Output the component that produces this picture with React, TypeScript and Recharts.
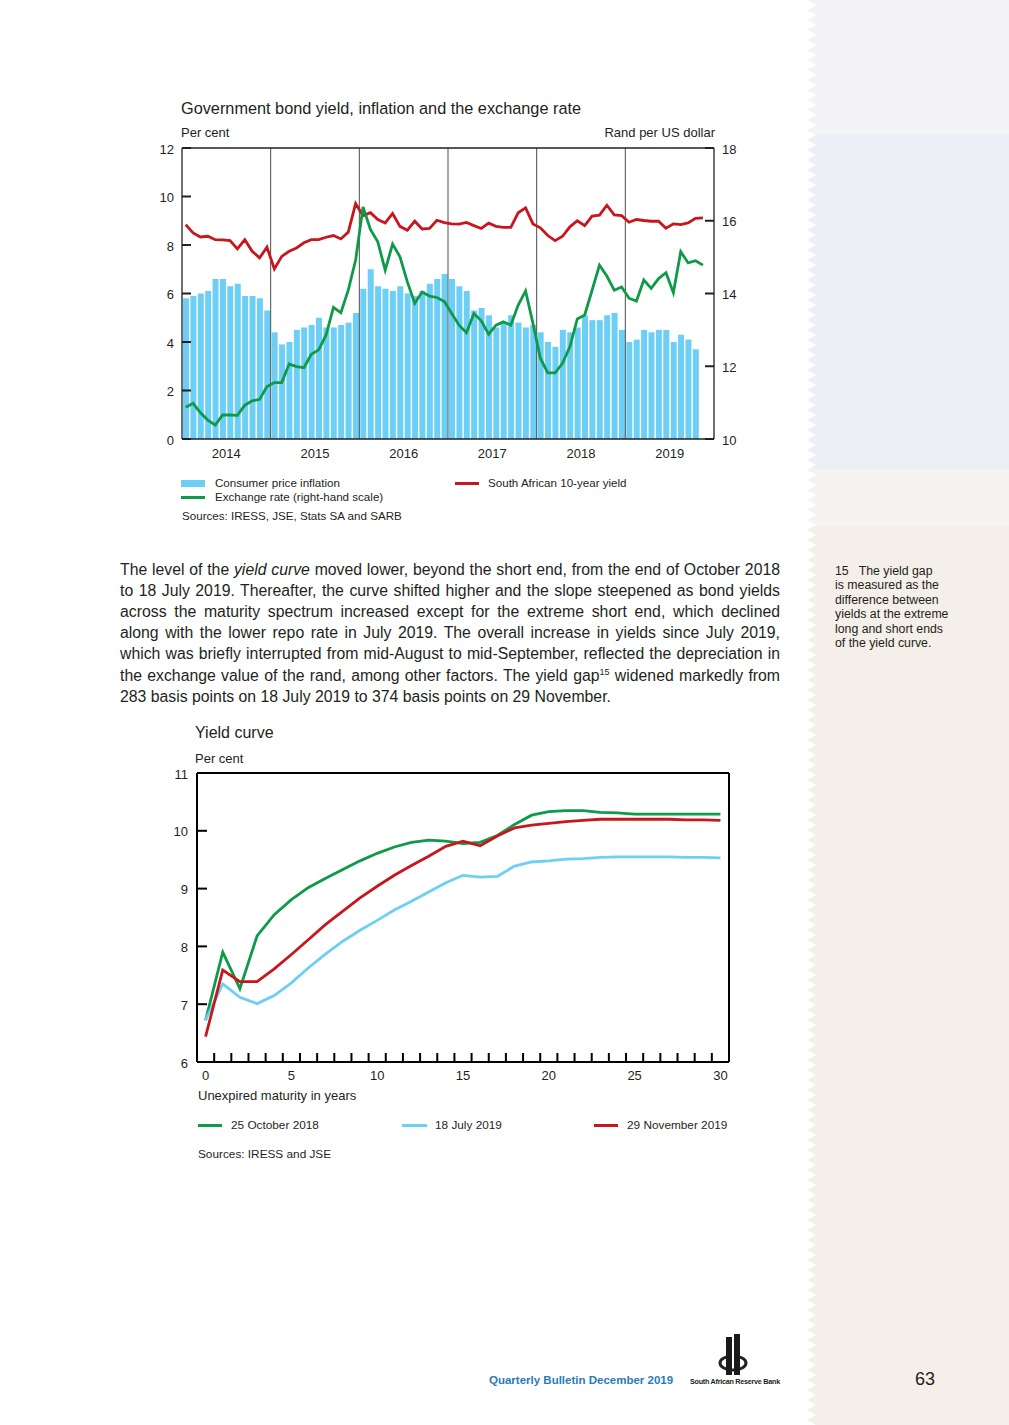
/**
 * App.tsx - SARB Quarterly Bulletin page: bond yield / inflation / rand chart
 * plus the yield curve chart, with the surrounding page text.
 */

import React from "react";
import { ComposedChart, LineChart, Bar, Line, XAxis, YAxis, ReferenceLine } from "recharts";

// ---- Chart 1 data (monthly, Jan 2014 onwards) ----
const yearLabels = ["2014", "2015", "2016", "2017", "2018", "2019"];

// Consumer price inflation, per cent (Jan 2014 - Oct 2019).
const cpi = [
  5.8, 5.9, 6.0, 6.1, 6.6, 6.6, 6.3, 6.4, 5.9, 5.9, 5.8, 5.3,
  4.4, 3.9, 4.0, 4.5, 4.6, 4.7, 5.0, 4.6, 4.6, 4.7, 4.8, 5.2,
  6.2, 7.0, 6.3, 6.2, 6.1, 6.3, 6.0, 5.9, 6.1, 6.4, 6.6, 6.8,
  6.6, 6.3, 6.1, 5.3, 5.4, 5.1, 4.6, 4.8, 5.1, 4.8, 4.6, 4.7,
  4.4, 4.0, 3.8, 4.5, 4.4, 4.6, 5.1, 4.9, 4.9, 5.1, 5.2, 4.5,
  4.0, 4.1, 4.5, 4.4, 4.5, 4.5, 4.0, 4.3, 4.1, 3.7,
];

// Rand per US dollar (Jan 2014 - Nov 2019), right-hand scale.
const randPerDollar = [
  10.87, 10.98, 10.72, 10.52, 10.38, 10.66, 10.66, 10.65, 10.93, 11.05, 11.09, 11.44,
  11.55, 11.55, 12.06, 11.99, 11.96, 12.33, 12.45, 12.86, 13.62, 13.47, 14.09, 14.92,
  16.38, 15.76, 15.42, 14.64, 15.36, 15.01, 14.32, 13.73, 14.04, 13.93, 13.89, 13.78,
  13.45, 13.13, 12.92, 13.45, 13.25, 12.88, 13.13, 13.22, 13.13, 13.68, 14.07, 13.18,
  12.22, 11.82, 11.82, 12.08, 12.54, 13.3, 13.41, 14.09, 14.78, 14.48, 14.09, 14.18,
  13.87, 13.79, 14.37, 14.14, 14.41, 14.57, 14.02, 15.15, 14.84, 14.9, 14.78,
];

// South African 10-year bond yield, per cent (Jan 2014 - Nov 2019).
const tenYearYield = [
  8.84, 8.5, 8.33, 8.36, 8.22, 8.21, 8.18, 7.84, 8.22, 7.74, 7.47, 7.91,
  7.01, 7.53, 7.74, 7.88, 8.09, 8.22, 8.22, 8.32, 8.39, 8.25, 8.53, 9.71,
  9.21, 9.33, 9.05, 8.91, 9.3, 8.77, 8.61, 8.98, 8.66, 8.68, 9.02, 8.92,
  8.87, 8.86, 8.93, 8.8, 8.68, 8.9, 8.77, 8.73, 8.73, 9.33, 9.53, 8.87,
  8.71, 8.39, 8.18, 8.36, 8.75, 9.0, 8.8, 9.19, 9.23, 9.64, 9.24, 9.21,
  8.94, 9.05, 9.01, 8.98, 8.98, 8.69, 8.87, 8.84, 8.91, 9.1, 9.12,
];

// ---- Chart 2 data (yield curves) ----
const maturities = [
  0, 1, 2, 3, 4, 5, 6, 7, 8, 9, 10, 11, 12, 13, 14, 15,
  16, 17, 18, 19, 20, 21, 22, 23, 24, 25, 26, 27, 28, 29, 30,
];
const curveOct2018 = [
  6.72, 7.9, 7.27, 8.18, 8.55, 8.81, 9.02, 9.18, 9.33, 9.48, 9.61, 9.72, 9.8, 9.84, 9.82, 9.78,
  9.8, 9.92, 10.11, 10.27, 10.33, 10.35, 10.35, 10.32, 10.31, 10.29, 10.29, 10.29, 10.29, 10.29, 10.29,
];
const curveJul2019 = [
  6.73, 7.35, 7.12, 7.01, 7.15, 7.37, 7.63, 7.87, 8.09, 8.28, 8.45, 8.63, 8.78, 8.94, 9.1, 9.23,
  9.2, 9.21, 9.39, 9.46, 9.48, 9.51, 9.52, 9.54, 9.55, 9.55, 9.55, 9.55, 9.54, 9.54, 9.53,
];
const curveNov2019 = [
  6.44, 7.59, 7.39, 7.39, 7.61, 7.86, 8.12, 8.38, 8.61, 8.84, 9.04, 9.23, 9.4, 9.56, 9.73, 9.82,
  9.74, 9.91, 10.05, 10.1, 10.13, 10.16, 10.18, 10.2, 10.2, 10.2, 10.2, 10.2, 10.19, 10.19, 10.18,
];

// Rows for the libraries (month centre sits half a month after its start).
const bondRows = randPerDollar.map((fx, i) => ({
  t: i + 0.5,
  cpi: i < cpi.length ? cpi[i] : null,
  fx,
  yld: tenYearYield[i],
}));
const yearStarts = [12, 24, 36, 48, 60];
const yearMids = [6, 18, 30, 42, 54, 66];

const curveRows = maturities.map((m, i) => ({
  m,
  oct: curveOct2018[i],
  jul: curveJul2019[i],
  nov: curveNov2019[i],
}));
const minorTicks = maturities.slice(0, 30).map((m) => m + 0.5); // tick marks between years

const FONT = '"Liberation Sans", Arial, Helvetica, sans-serif';
const INK = "#231F20";
const BLUE = "#6DCFF6";
const GREEN = "#0E9A48";
const RED = "#C8161D";

// Absolutely placed text, y is the vertical centre of the capitals.
const Txt: React.FC<{ x: number; y: number; size: number; children: React.ReactNode; style?: React.CSSProperties }> = ({ x, y, size, children, style }) => (
  <div
    style={{
      position: "absolute",
      left: x,
      top: y - size * 0.6,
      fontSize: size,
      lineHeight: `${size * 1.2}px`,
      whiteSpace: "nowrap",
      ...style,
    }}
  >
    {children}
  </div>
);

const Swatch: React.FC<{ x: number; y: number; w: number; h: number; color: string }> = ({ x, y, w, h, color }) => (
  <div style={{ position: "absolute", left: x, top: y - h / 2, width: w, height: h, background: color }} />
);

// Sidebar zig-zag left edge.
const zigzag = (() => {
  const pts: string[] = ["100% 0", "100% 100%"];
  for (let y = 1425; y >= 0; y -= 5) pts.push(`${(y / 5) % 2 === 0 ? 0 : 9}px ${y}px`);
  return `polygon(${pts.join(",")})`;
})();

const paraLines: React.ReactNode[] = [
  <>The level of the <i>yield curve</i> moved lower, beyond the short end, from the end of October 2018</>,
  <>to 18 July 2019. Thereafter, the curve shifted higher and the slope steepened as bond yields</>,
  <>across the maturity spectrum increased except for the extreme short end, which declined</>,
  <>along with the lower repo rate in July 2019. The overall increase in yields since July 2019,</>,
  <>which was briefly interrupted from mid-August to mid-September, reflected the depreciation in</>,
  <>the exchange value of the rand, among other factors. The yield gap<sup style={{ fontSize: 9, lineHeight: 0 }}>15</sup> widened markedly from</>,
  <>283 basis points on 18 July 2019 to 374 basis points on 29 November.</>,
];

const footLines = ["is measured as the", "difference between", "yields at the extreme", "long and short ends", "of the yield curve."];

const BondChart: React.FC = () => (
  <div style={{ position: "absolute", left: 140, top: 140 }}>
    <ComposedChart width={616} height={329} data={bondRows} margin={{ top: 7, right: 0, bottom: 0, left: 0 }}>
      {/* top border of the frame */}
      <XAxis xAxisId="top" orientation="top" type="number" dataKey="t" domain={[0, 72]} height={1} tick={false} tickLine={false} axisLine={{ stroke: INK, strokeWidth: 1.3 }} />
      <XAxis
        type="number"
        dataKey="t"
        domain={[0, 72]}
        ticks={yearMids}
        interval={0}
        tickFormatter={(v: number) => yearLabels[yearMids.indexOf(v)]}
        height={30}
        tickLine={false}
        tickMargin={4}
        axisLine={{ stroke: INK, strokeWidth: 1.3 }}
        tick={{ fill: INK, fontSize: 13 }}
      />
      <YAxis yAxisId="left" domain={[0, 12]} ticks={[0, 2, 4, 6, 8, 10, 12]} interval={0} width={42} tickSize={-9} tickMargin={17} axisLine={{ stroke: INK, strokeWidth: 1.3 }} tickLine={{ stroke: INK, strokeWidth: 2 }} tick={{ fill: INK, fontSize: 13, dy: 1 }} />
      <YAxis yAxisId="right" orientation="right" domain={[10, 18]} ticks={[10, 12, 14, 16, 18]} interval={0} width={42} tickSize={-9} tickMargin={17} axisLine={{ stroke: INK, strokeWidth: 1.3 }} tickLine={{ stroke: INK, strokeWidth: 2 }} tick={{ fill: INK, fontSize: 13, dy: 1 }} />
      <Bar yAxisId="left" dataKey="cpi" fill={BLUE} barSize={6} isAnimationActive={false} />
      {yearStarts.map((x) => (
        <ReferenceLine key={x} yAxisId="left" x={x} stroke="#3A3A3A" strokeWidth={0.9} />
      ))}
      <Line yAxisId="left" type="linear" dataKey="yld" stroke={RED} strokeWidth={2.8} dot={false} isAnimationActive={false} />
      <Line yAxisId="right" type="linear" dataKey="fx" stroke={GREEN} strokeWidth={2.8} dot={false} isAnimationActive={false} />
    </ComposedChart>
  </div>
);

const CurveChart: React.FC = () => (
  <div style={{ position: "absolute", left: 150, top: 760 }}>
    <LineChart width={589} height={327} data={curveRows} margin={{ top: 12, right: 9, bottom: 0, left: 0 }}>
      {/* small inward ticks between maturities */}
      <XAxis xAxisId="minor" type="number" dataKey="m" domain={[-0.5, 30.5]} ticks={minorTicks} interval={0} height={1} mirror tickSize={9} tick={() => <g />} axisLine={false} tickLine={{ stroke: "#000", strokeWidth: 2 }} />
      {/* top border of the frame */}
      <XAxis xAxisId="top" orientation="top" type="number" dataKey="m" domain={[-0.5, 30.5]} height={1} tick={false} tickLine={false} axisLine={{ stroke: "#000", strokeWidth: 2 }} />
      <XAxis
        type="number"
        dataKey="m"
        domain={[-0.5, 30.5]}
        ticks={[0, 5, 10, 15, 20, 25, 30]}
        interval={0}
        height={25}
        tickLine={false}
        tickMargin={3}
        axisLine={{ stroke: "#000", strokeWidth: 2 }}
        tick={{ fill: INK, fontSize: 13 }}
      />
      <YAxis domain={[6, 11]} ticks={[6, 7, 8, 9, 10, 11]} interval={0} width={47} tickSize={-10} tickMargin={19} axisLine={{ stroke: "#000", strokeWidth: 2 }} tickLine={{ stroke: "#000", strokeWidth: 2 }} tick={{ fill: INK, fontSize: 13, dy: 1 }} />
      {/* right border of the frame */}
      <YAxis yAxisId="right" orientation="right" domain={[6, 11]} width={1} tick={false} tickLine={false} axisLine={{ stroke: "#000", strokeWidth: 2 }} />
      <Line type="linear" dataKey="oct" stroke={GREEN} strokeWidth={2.8} dot={false} isAnimationActive={false} />
      <Line type="linear" dataKey="jul" stroke={BLUE} strokeWidth={2.8} dot={false} isAnimationActive={false} />
      <Line type="linear" dataKey="nov" stroke={RED} strokeWidth={2.8} dot={false} isAnimationActive={false} />
    </LineChart>
  </div>
);

const App: React.FC = () => {
  return (
    <div style={{ position: "absolute", left: 0, top: 0, width: 1009, height: 1425, background: "#fff", fontFamily: FONT, color: INK, overflow: "hidden" }}>
      {/* Patterned sidebar on the right */}
      <div style={{ position: "absolute", left: 807, top: 0, width: 202, height: 1425, clipPath: zigzag }}>
        <div style={{ position: "absolute", left: 0, top: 0, width: "100%", height: 134, background: "#F4F4F6" }} />
        <div style={{ position: "absolute", left: 0, top: 134, width: "100%", height: 335, background: "#ECF0F6" }} />
        <div style={{ position: "absolute", left: 0, top: 469, width: "100%", height: 58, background: "#F6F4F1" }} />
        <div style={{ position: "absolute", left: 0, top: 527, width: "100%", height: 898, background: "#F4EFE8" }} />
      </div>

      {/* Chart 1 */}
      <Txt x={181} y={109} size={16.3}>Government bond yield, inflation and the exchange rate</Txt>
      <Txt x={181} y={133} size={13}>Per cent</Txt>
      <Txt x={715} y={133} size={13} style={{ transform: "translateX(-100%)" }}>Rand per US dollar</Txt>
      <BondChart />
      <Swatch x={181} y={483} w={24} h={7} color={BLUE} />
      <Txt x={215} y={483} size={11.6}>Consumer price inflation</Txt>
      <Swatch x={181} y={497} w={24} h={3} color={GREEN} />
      <Txt x={215} y={497} size={11.6}>Exchange rate (right-hand scale)</Txt>
      <Swatch x={455} y={483} w={24} h={3} color={RED} />
      <Txt x={488} y={483} size={11.6}>South African 10-year yield</Txt>
      <Txt x={182} y={516} size={11.6}>Sources: IRESS, JSE, Stats SA and SARB</Txt>

      {/* Body paragraph, justified line by line */}
      {paraLines.map((line, i) => (
        <div
          key={i}
          style={{
            position: "absolute",
            left: 120,
            width: 660,
            top: 570.5 + i * 21.1 - 15.8 * 0.6,
            fontSize: 15.8,
            lineHeight: "18.96px",
            whiteSpace: "nowrap",
            textAlign: "justify",
            textAlignLast: i < paraLines.length - 1 ? "justify" : "left",
          }}
        >
          {line}
        </div>
      ))}

      {/* Footnote in sidebar */}
      <Txt x={835} y={571} size={12.3}>15<span style={{ marginLeft: 10 }}>The yield gap</span></Txt>
      {footLines.map((t, i) => (
        <Txt key={t} x={835} y={585.5 + i * 14.5} size={12.3}>{t}</Txt>
      ))}

      {/* Chart 2 */}
      <Txt x={195} y={733} size={16}>Yield curve</Txt>
      <Txt x={195} y={759} size={13}>Per cent</Txt>
      <CurveChart />
      <Txt x={198} y={1096} size={13}>Unexpired maturity in years</Txt>
      <Swatch x={198} y={1125} w={24} h={3} color={GREEN} />
      <Txt x={231} y={1125} size={11.8}>25 October 2018</Txt>
      <Swatch x={402} y={1125} w={25} h={3} color={BLUE} />
      <Txt x={435} y={1125} size={11.8}>18 July 2019</Txt>
      <Swatch x={594} y={1125} w={24} h={3} color={RED} />
      <Txt x={627} y={1125} size={11.8}>29 November 2019</Txt>
      <Txt x={198} y={1154} size={11.8}>Sources: IRESS and JSE</Txt>

      {/* Footer */}
      <Txt x={489} y={1381} size={11.5} style={{ color: "#2A7AB8", fontWeight: 700 }}>Quarterly Bulletin December 2019</Txt>
      <svg style={{ position: "absolute", left: 716, top: 1333 }} width={36} height={44}>
        <ellipse cx={17} cy={30} rx={13} ry={7} fill="none" stroke="#222" strokeWidth={3} />
        <rect x={10} y={4} width={6} height={38} fill="#1A1A1A" />
        <rect x={18} y={1} width={6} height={41} fill="#1A1A1A" />
        <rect x={16} y={4} width={2} height={30} fill="#fff" />
      </svg>
      <Txt x={690} y={1382} size={7.2} style={{ fontWeight: 700, letterSpacing: -0.25 }}>South African Reserve Bank</Txt>
      <Txt x={915} y={1380} size={18}>63</Txt>
    </div>
  );
};

export default App;
